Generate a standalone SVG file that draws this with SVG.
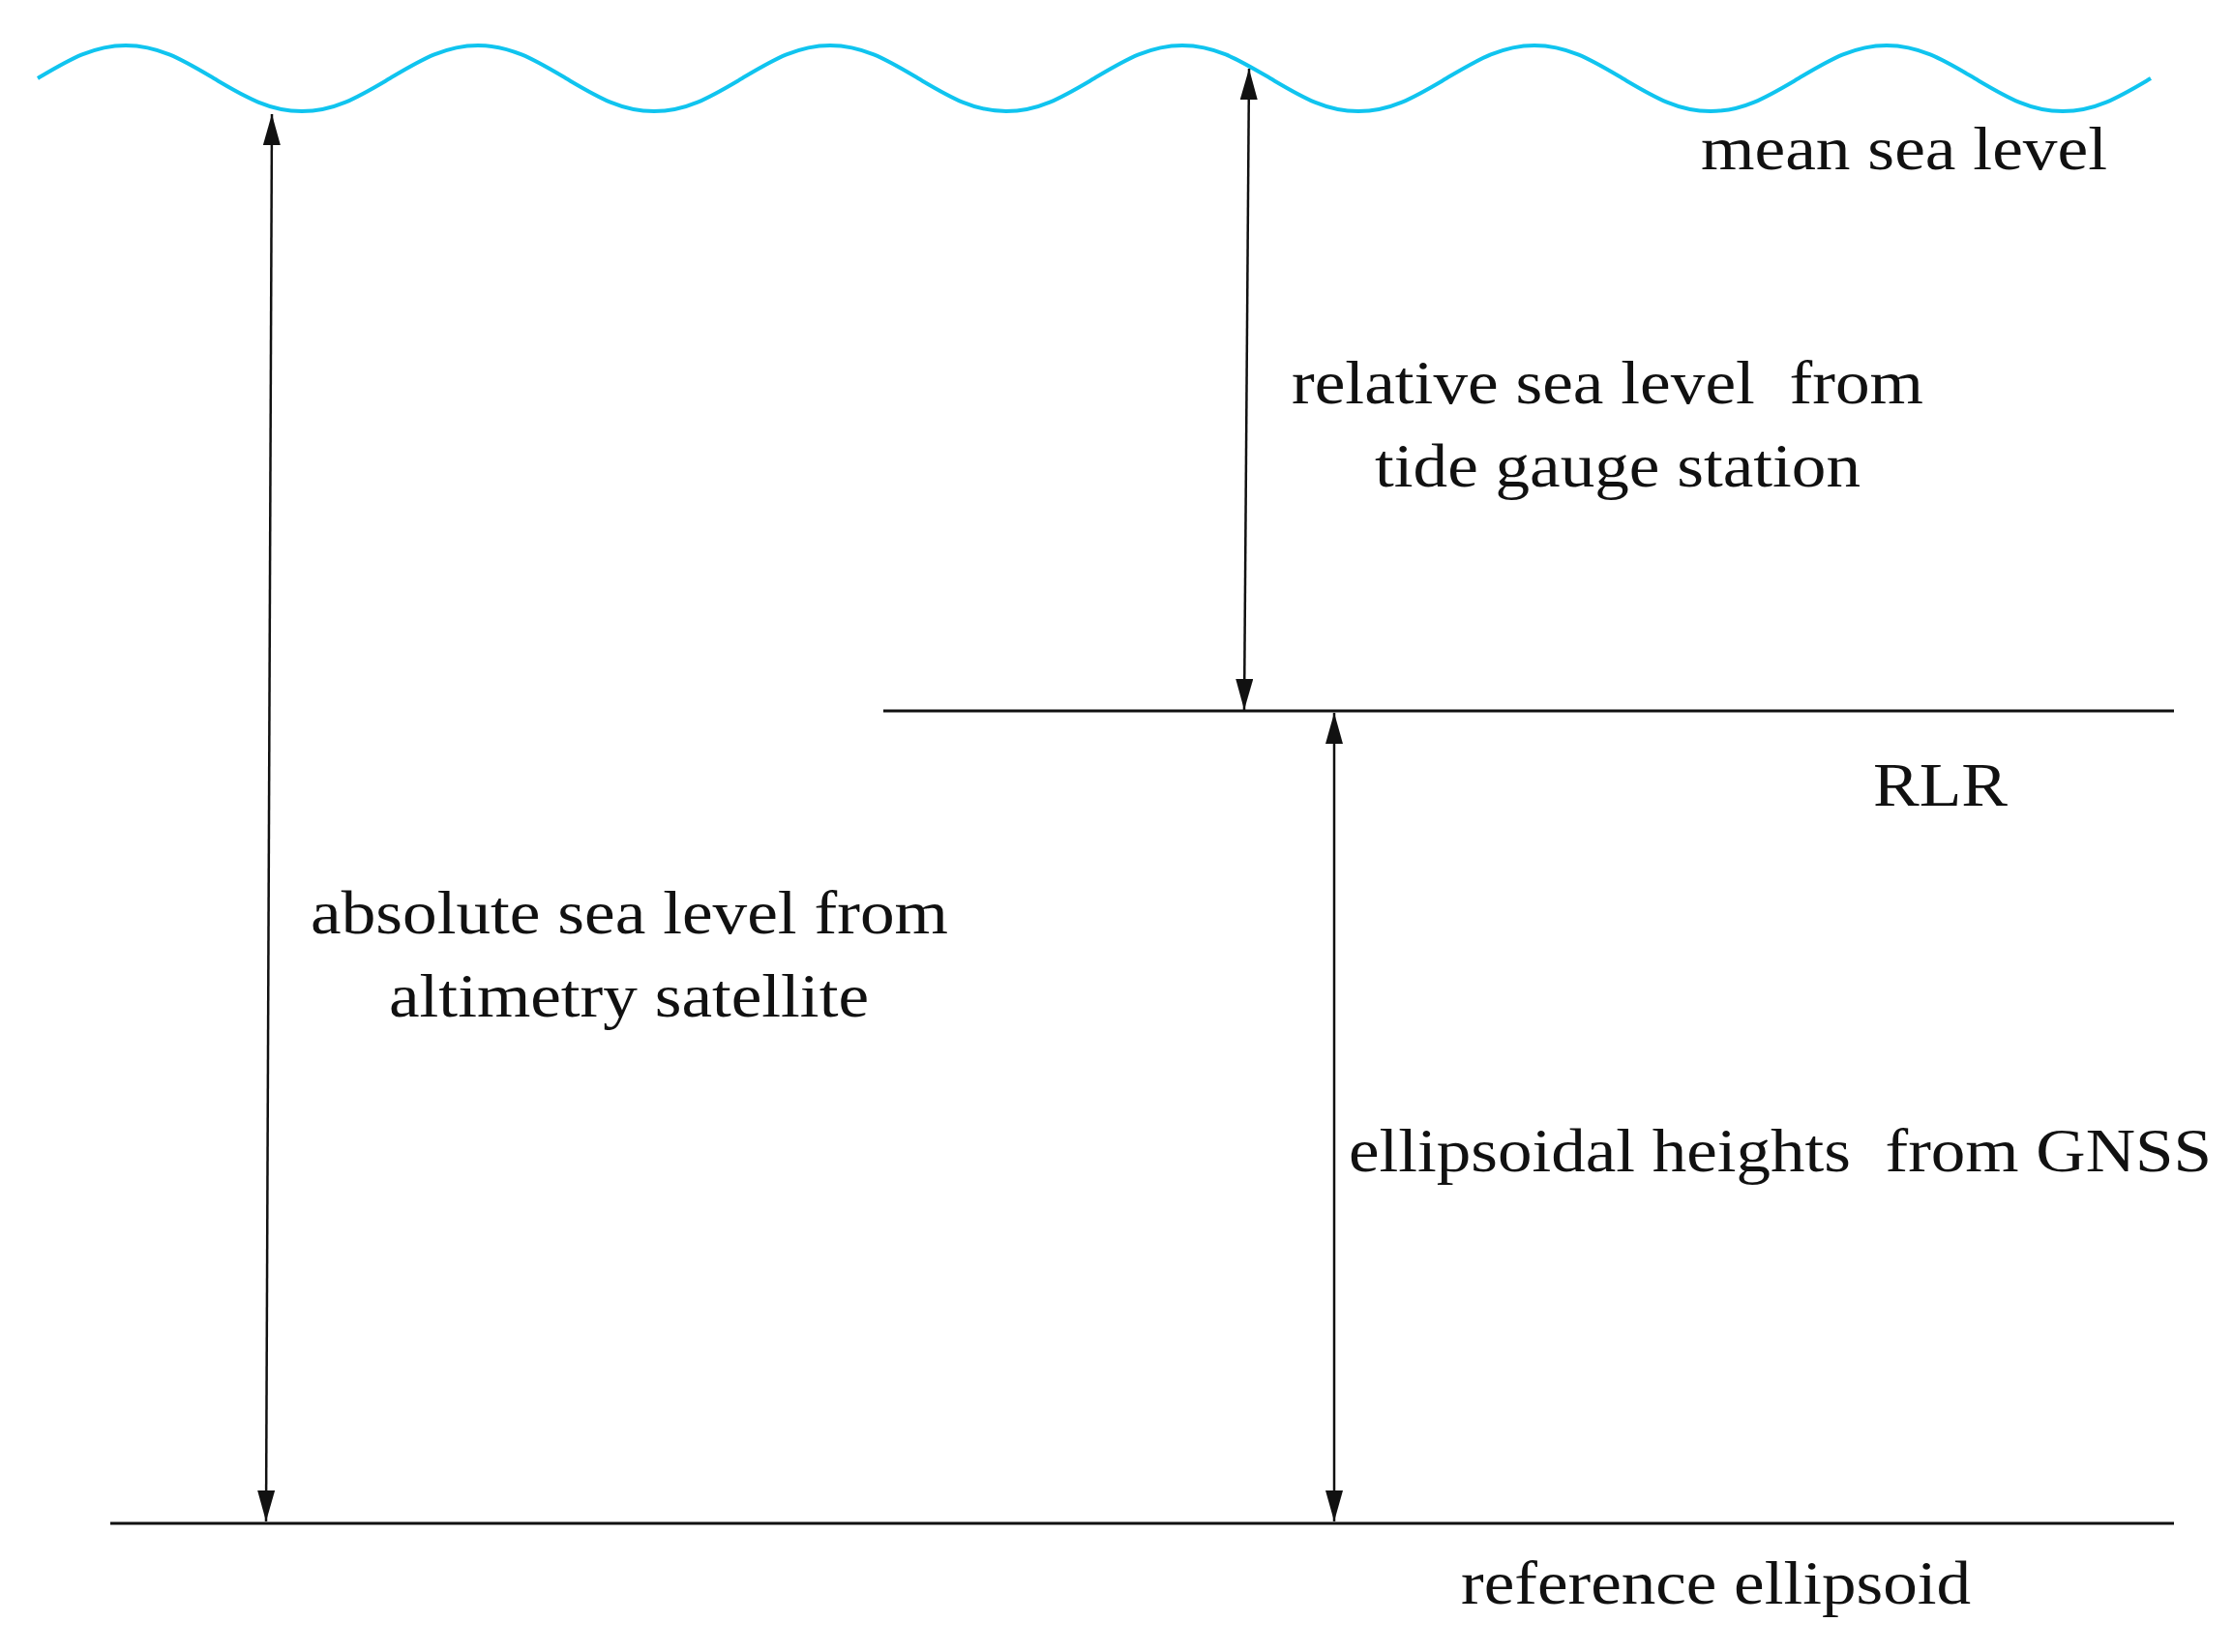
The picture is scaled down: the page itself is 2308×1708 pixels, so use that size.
<svg xmlns="http://www.w3.org/2000/svg" width="2308" height="1708" viewBox="0 0 2308 1708">
<style>
text{font-family:"Liberation Serif","Times New Roman",serif;font-size:64px;fill:#111}
.ln{stroke:#111;stroke-width:3;fill:none}
.ar{stroke:#111;stroke-width:2.5;fill:none;marker-start:url(#ah);marker-end:url(#ah)}
</style>
<defs>
<marker id="ah" viewBox="0 0 32 18" refX="32" refY="9" markerWidth="32" markerHeight="18" markerUnits="userSpaceOnUse" orient="auto-start-reverse">
<path d="M0,0 L32,9 L0,18 Z" fill="#111"/>
</marker>
</defs>
<rect width="2308" height="1708" fill="#fff"/>
<g id="sea">
<path d="M39,81 c30,-17.6 56,-34 91,-34 c35,0 61,16.4 91,34 c30,17.6 56,34 91,34 c35,0 61,-16.4 91,-34 c30,-17.6 56,-34 91,-34 c35,0 61,16.4 91,34 c30,17.6 56,34 91,34 c35,0 61,-16.4 91,-34 c30,-17.6 56,-34 91,-34 c35,0 61,16.4 91,34 c30,17.6 56,34 91,34 c35,0 61,-16.4 91,-34 c30,-17.6 56,-34 91,-34 c35,0 61,16.4 91,34 c30,17.6 56,34 91,34 c35,0 61,-16.4 91,-34 c30,-17.6 56,-34 91,-34 c35,0 61,16.4 91,34 c30,17.6 56,34 91,34 c35,0 61,-16.4 91,-34 c30,-17.6 56,-34 91,-34 c35,0 61,16.4 91,34 c30,17.6 56,34 91,34 c35,0 61,-16.4 91,-34" fill="none" stroke="#10c4ef" stroke-width="4"/>
<text x="1758" y="175" textLength="420" lengthAdjust="spacingAndGlyphs">mean sea level</text>
</g>
<g id="rlr">
<line class="ln" x1="913" y1="735" x2="2247" y2="735"/>
<text x="1936" y="833" textLength="139" lengthAdjust="spacingAndGlyphs">RLR</text>
</g>
<g id="ellipsoid">
<line class="ln" x1="114" y1="1575" x2="2247" y2="1575"/>
<text x="1510" y="1658" textLength="527" lengthAdjust="spacingAndGlyphs">reference ellipsoid</text>
</g>
<g id="connectors">
<line class="ar" x1="281" y1="118" x2="275" y2="1573"/>
<line class="ar" x1="1291" y1="71" x2="1286" y2="734"/>
<line class="ar" x1="1379" y1="737" x2="1379" y2="1573"/>
</g>
<g id="labels">
<text x="1335" y="417" xml:space="preserve" textLength="653" lengthAdjust="spacingAndGlyphs">relative sea level  from</text>
<text x="1421" y="503" textLength="502" lengthAdjust="spacingAndGlyphs">tide gauge station</text>
<text x="321" y="965" textLength="659" lengthAdjust="spacingAndGlyphs">absolute sea level from</text>
<text x="402" y="1051" textLength="496" lengthAdjust="spacingAndGlyphs">altimetry satellite</text>
<text x="1394" y="1211" xml:space="preserve" textLength="892" lengthAdjust="spacingAndGlyphs">ellipsoidal heights  from GNSS</text>
</g>
</svg>
